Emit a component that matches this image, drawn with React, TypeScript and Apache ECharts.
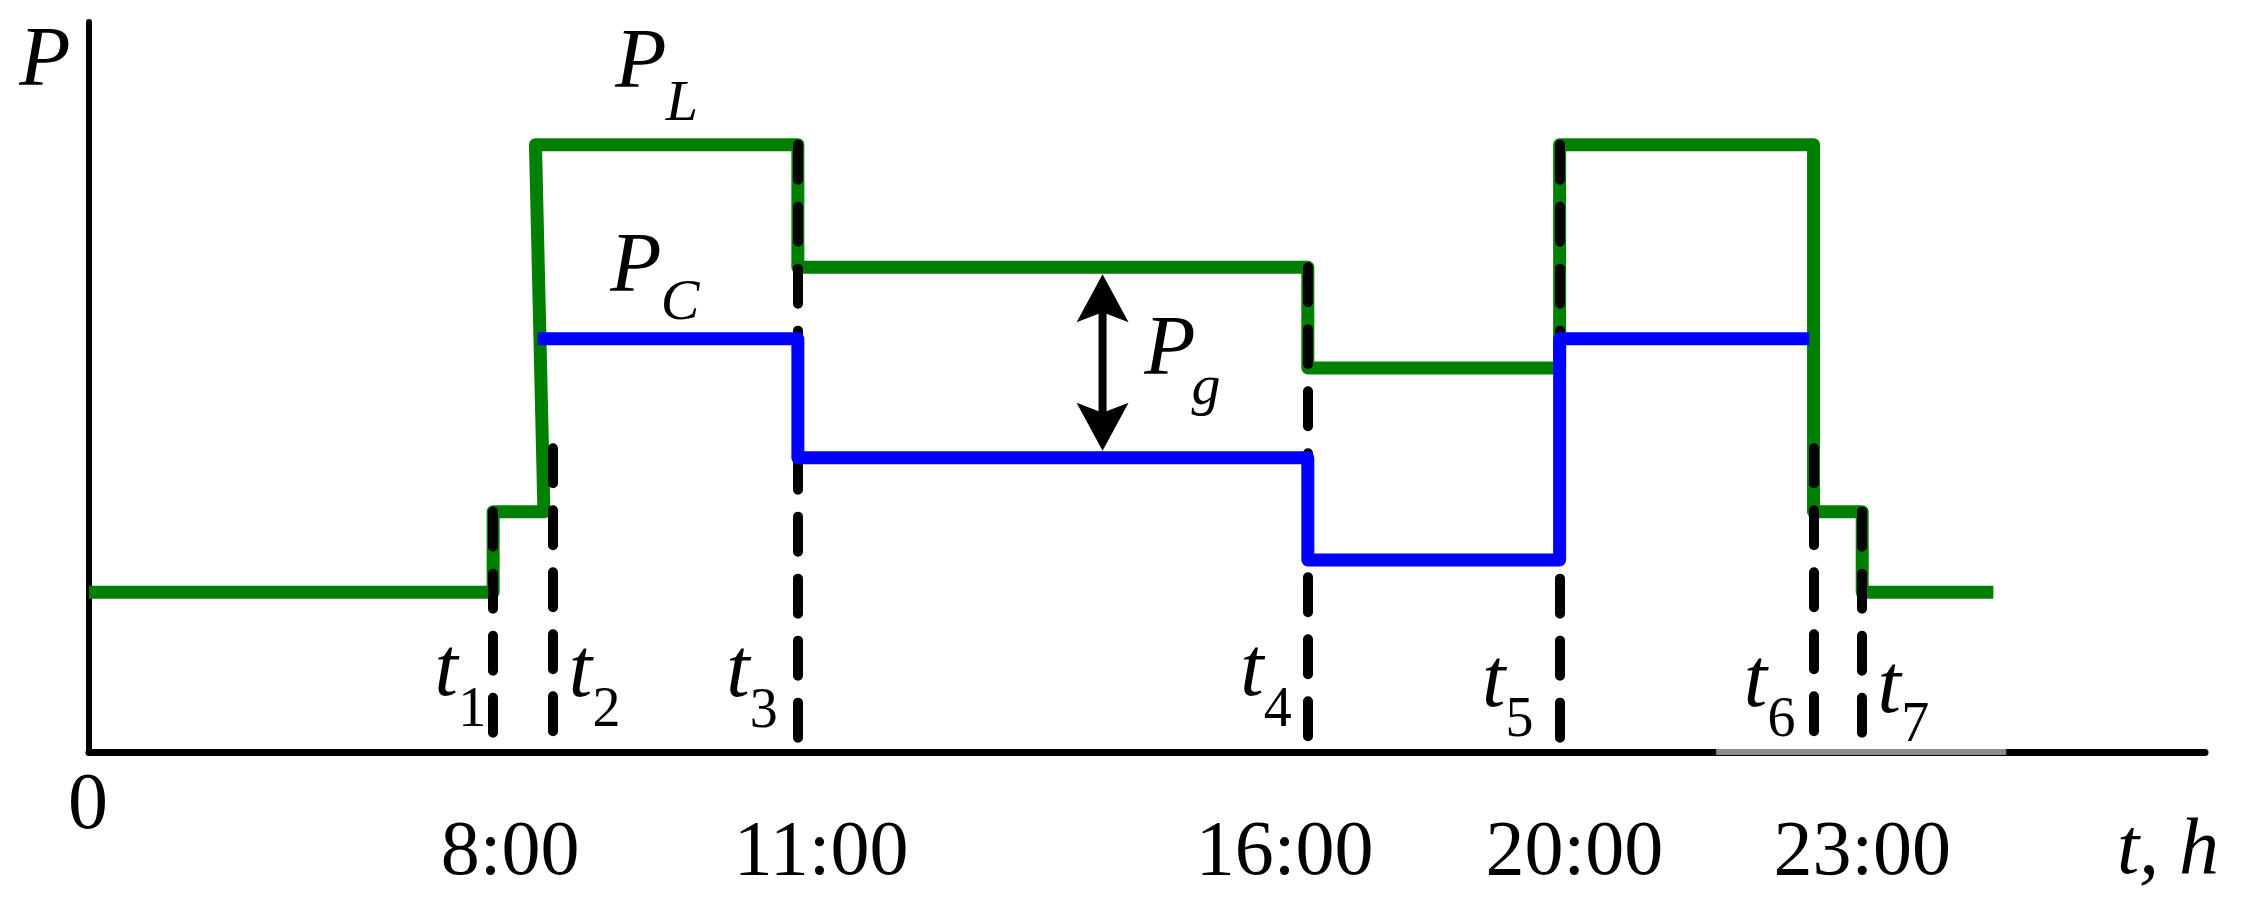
import React, { useEffect, useRef } from "react";
import * as echarts from "echarts";

// ---- data (schematic units: x 0..100 along the time axis, y 0..100 power) ----
const loadX = [0, 19.1, 19.1, 21.5, 21.1, 33.5, 33.5, 57.6, 57.6, 69.5, 69.5, 81.5, 81.5, 83.8, 83.8, 90];
const loadP = [21.9, 21.9, 32.9, 32.9, 83.2, 83.2, 66.4, 66.4, 52.6, 52.6, 83.2, 83.2, 32.9, 32.9, 21.9, 21.9];
const consX = [21.2, 33.5, 33.5, 57.6, 57.6, 69.5, 69.5, 81.3];
const consP = [56.6, 56.6, 40.3, 40.3, 26.3, 26.3, 56.6, 56.6];
const tNames = ["1", "2", "3", "4", "5", "6", "7"];
const tX = [19.1, 21.9, 33.5, 57.6, 69.5, 81.5, 83.8];
const tTop = [32.9, 41.6, 83.2, 66.4, 83.2, 41.6, 32.9];
const hourLabels = ["8:00", "11:00", "16:00", "20:00", "23:00"];
const hourX = [19.9, 34.6, 56.5, 70.2, 83.8];
const gapX = [47.9];
const gapFrom = [66.4];
const gapTo = [40.3];

const FONT = '"Liberation Serif", "Times New Roman", serif';

export default function App() {
  const ref = useRef<HTMLDivElement>(null);
  useEffect(() => {
    const chart = echarts.init(ref.current!, null, { renderer: "svg" });
    const pair = (xs: number[], ys: number[]) => xs.map((x, i) => [x, ys[i]]);
    chart.setOption({
      animation: false,
      backgroundColor: "#fff",
      grid: { left: 89, right: 37, top: 22, bottom: 156, containLabel: false, outerBoundsMode: "none" },
      xAxis: {
        type: "value",
        min: 0,
        max: 100,
        axisLine: { show: true, onZero: false, lineStyle: { color: "#000", width: 7 } },
        axisTick: { show: false },
        splitLine: { show: false },
        axisLabel: {
          customValues: hourX,
          formatter: (v: number) => {
            let best = 0;
            hourX.forEach((h, i) => {
              if (Math.abs(h - v) < Math.abs(hourX[best] - v)) best = i;
            });
            return hourLabels[best];
          },
          fontFamily: FONT,
          fontSize: 78,
          color: "#000",
          margin: 56,
        },
      },
      yAxis: {
        type: "value",
        min: 0,
        max: 100,
        axisLine: { show: true, onZero: false, lineStyle: { color: "#000", width: 6 } },
        axisTick: { show: false },
        splitLine: { show: false },
        axisLabel: { show: false },
      },
      series: [
        {
          type: "line",
          name: "P_L",
          data: pair(loadX, loadP),
          symbol: "none",
          lineStyle: { color: "#008000", width: 13, join: "round" },
          z: 2,
        },
        {
          type: "lines",
          coordinateSystem: "cartesian2d",
          data: tX.map((x, i) => ({ coords: [[x, tTop[i]], [x, 0]] })),
          lineStyle: { color: "#000", width: 10, type: [35, 27], cap: "round", opacity: 1 },
          z: 3,
        },
        {
          type: "line",
          name: "P_C",
          data: pair(consX, consP),
          symbol: "none",
          lineStyle: { color: "#0000ff", width: 13, join: "round" },
          z: 4,
        },
        {
          type: "custom",
          coordinateSystem: "cartesian2d",
          data: gapX.map((x, i) => [x, gapFrom[i], gapTo[i]]),
          z: 5,
          renderItem: (params: any, api: any) => {
            const top = api.coord([api.value(0), api.value(1)]);
            const bot = api.coord([api.value(0), api.value(2)]);
            const x = top[0];
            const y1 = top[1] + 7;
            const y2 = bot[1] - 7;
            const hl = 48, hw = 26, notch = 38;
            return {
              type: "group",
              children: [
                { type: "line", shape: { x1: x, y1: y1 + notch - 2, x2: x, y2: y2 - notch + 2 }, style: { stroke: "#000", lineWidth: 8 } },
                { type: "polygon", shape: { points: [[x, y1], [x + hw, y1 + hl], [x, y1 + notch], [x - hw, y1 + hl]] }, style: { fill: "#000" } },
                { type: "polygon", shape: { points: [[x, y2], [x + hw, y2 - hl], [x, y2 - notch], [x - hw, y2 - hl]] }, style: { fill: "#000" } },
              ],
            };
          },
        },
      ],
    });

    const px = (x: number, y: number) => chart.convertToPixel({ gridIndex: 0 }, [x, y]) as number[];
    const txt = (text: string, x: number, y: number, size: number, italic: boolean) => ({
      type: "text",
      silent: true,
      z: 10,
      style: {
        text,
        x,
        y,
        fill: "#000",
        fontSize: size,
        fontFamily: FONT,
        fontStyle: italic ? "italic" : "normal",
        align: "center",
        verticalAlign: "middle",
      },
    });

    const origin = px(0, 0);
    const elements: any[] = [];
    // gray patch of the time axis
    const g1 = px(76.9, 0);
    const g2 = px(90.6, 0);
    elements.push({ type: "line", silent: true, z: 1, shape: { x1: g1[0], y1: g1[1], x2: g2[0], y2: g2[1] }, style: { stroke: "#8c8c8c", lineWidth: 6 } });

    elements.push(txt("P", 45, 56, 84, true));
    elements.push(txt("P", 641, 58, 84, true));
    elements.push(txt("L", 682, 100, 58, true));
    elements.push(txt("P", 636, 262, 84, true));
    elements.push(txt("C", 680, 299, 58, true));
    elements.push(txt("P", 1170, 345, 84, true));
    elements.push(txt("g", 1206, 384, 58, true));
    elements.push(txt("0", origin[0] - 1, origin[1] + 49, 80, false));
    elements.push(txt("t, h", 2168, 846, 80, true));

    const subDx = [-21, 54, -34, -30, -40, -32, 53];
    const tDy = [-86, -85, -85, -86, -75, -75, -69];
    const subDy = [-45, -45, -44, -45, -35, -35, -30];
    tX.forEach((x, i) => {
      const p = px(x, 0);
      const sx = p[0] + subDx[i];
      elements.push(txt("t", sx - 26, p[1] + tDy[i], 84, true));
      elements.push(txt(tNames[i], sx, p[1] + subDy[i], 56, false));
    });

    chart.setOption({ graphic: elements });
    return () => chart.dispose();
  }, []);

  return (
    <div
      ref={ref}
      style={{ position: "absolute", left: 0, top: 0, width: 2242, height: 908, background: "#fff" }}
    />
  );
}
